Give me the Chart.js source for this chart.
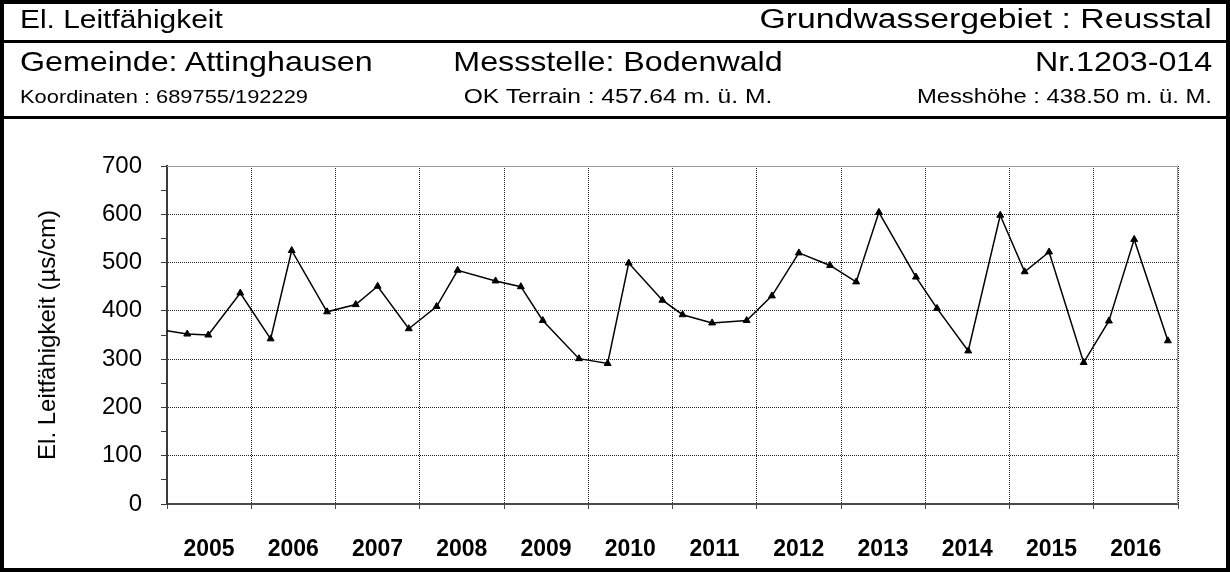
<!DOCTYPE html>
<html>
<head>
<meta charset="utf-8">
<title>El. Leitfähigkeit – Bodenwald</title>
<script src="https://cdn.jsdelivr.net/npm/chart.js@4.4.1/dist/chart.umd.min.js"></script>
<style>
  html, body { margin: 0; padding: 0; background: #fff; overflow: hidden; }
  #sheet { position: relative; width: 1230px; height: 572px; font-family: "Liberation Sans", Arial, sans-serif; color: #000; }
  #plot { position: absolute; left: 0; top: 0; width: 1230px; height: 572px; }
  #frame { position: absolute; left: 0; top: 0; width: 1222px; height: 564px; border: 4px solid #000; pointer-events: none; }
  .rule { position: absolute; left: 0; width: 1230px; height: 3px; background: #000; }
  .t { position: absolute; white-space: nowrap; line-height: 1; }
  .l { left: 20px; transform: scaleX(1.15); transform-origin: left center; }
  .r { right: 18px; transform: scaleX(1.15); transform-origin: right center; }
  .c { left: 618px; transform: translateX(-50%) scaleX(1.15); transform-origin: center center; }
  .big { font-size: 28px; }
  .head { font-size: 26px; }
  .small { font-size: 19px; }
  #area { font-size: 27px; transform: scaleX(1.25); }
  #terrain { font-size: 20px; transform: translateX(-50%) scaleX(1.23); }
  #height { font-size: 20px; transform: scaleX(1.19); }
</style>
</head>
<body>
<div id="sheet">
  <div id="plot"><canvas id="chart"></canvas></div>

  <div class="t head l" style="top:6px">El. Leitfähigkeit</div>
  <div class="t head r" id="area" style="top:6px">Grundwassergebiet : Reusstal</div>
  <div class="rule" style="top:40px"></div>

  <div class="t big l" style="top:48px">Gemeinde: Attinghausen</div>
  <div class="t big c" style="top:48px">Messstelle: Bodenwald</div>
  <div class="t big r" style="top:48px">Nr.1203-014</div>

  <div class="t small l" style="top:87px">Koordinaten : 689755/192229</div>
  <div class="t small c" id="terrain" style="top:86px">OK Terrain : 457.64 m. ü. M.</div>
  <div class="t small r" id="height" style="top:86px">Messhöhe : 438.50 m. ü. M.</div>
  <div class="rule" style="top:116px"></div>

  <div id="frame"></div>
</div>

<script>
'use strict';

// Year labels on the time axis (one per year cell)
var years = ['2005', '2006', '2007', '2008', '2009', '2010',
             '2011', '2012', '2013', '2014', '2015', '2016'];

// Sampling dates as decimal years (first one lies just before the plotted range)
var sampleDates = [
  2004.88, 2005.24, 2005.49, 2005.87, 2006.23, 2006.48, 2006.90,
  2007.24, 2007.50, 2007.87, 2008.20, 2008.45, 2008.90, 2009.20,
  2009.46, 2009.89, 2010.23, 2010.48, 2010.88, 2011.12, 2011.47,
  2011.88, 2012.18, 2012.50, 2012.87, 2013.18, 2013.45, 2013.89,
  2014.14, 2014.51, 2014.89, 2015.18, 2015.47, 2015.88, 2016.18,
  2016.48, 2016.88
];

// Electrical conductivity in µs/cm
var conductivity = [
  362, 352, 350, 437, 342, 525, 398,
  413, 451, 363, 409, 484, 462, 450,
  380, 301, 291, 499, 422, 392, 375,
  380, 431, 520, 494, 460, 604, 470,
  405, 317, 598, 481, 522, 293, 379,
  548, 338
];

var yMin = 0, yMax = 700, yMajor = 100, yMinor = 50;

var points = sampleDates.map(function (d, i) { return { x: d, y: conductivity[i] }; });

// Solid grey edge along the top and right of the plot area
var plotFrame = {
  id: 'plotFrame',
  beforeDatasetsDraw: function (chart) {
    var a = chart.chartArea, ctx = chart.ctx;
    ctx.save();
    ctx.strokeStyle = '#9a9a9a';
    ctx.lineWidth = 1;
    ctx.beginPath();
    ctx.moveTo(a.left, a.top + 0.5);
    ctx.lineTo(a.right - 0.5, a.top + 0.5);
    ctx.lineTo(a.right - 0.5, a.bottom);
    ctx.stroke();
    ctx.restore();
  }
};

new Chart(document.getElementById('chart'), {
  type: 'line',
  data: {
    datasets: [{
      data: points,
      borderColor: '#000',
      borderWidth: 1.5,
      tension: 0,
      pointStyle: 'triangle',
      pointRadius: 4,
      pointBackgroundColor: '#000',
      pointBorderColor: '#000',
      pointBorderWidth: 1
    }]
  },
  options: {
    responsive: true,
    maintainAspectRatio: false,
    animation: false,
    events: [],
    layout: { padding: { left: 0, right: 52, top: 166, bottom: 0 } },
    plugins: { legend: { display: false }, tooltip: { enabled: false } },
    scales: {
      x: {
        type: 'linear',
        min: 2005,
        max: 2005 + years.length,
        afterFit: function (s) { s.height = 68; },
        border: { display: true, color: '#4a4a4a', width: 2, dash: [1, 1] },
        grid: { color: '#222', lineWidth: 1, tickLength: 5, tickColor: '#4a4a4a' },
        ticks: {
          stepSize: 1,
          autoSkip: false,
          maxRotation: 0,
          labelOffset: 42,
          padding: 27,
          color: '#000',
          font: { family: '"Liberation Sans", Arial, sans-serif', size: 23, weight: 'bold' },
          callback: function (v, i) { return years[i] || ''; }
        }
      },
      y: {
        min: yMin,
        max: yMax,
        afterFit: function (s) { s.width = 167; },
        border: { display: true, color: '#3a3a3a', width: 2, dash: [1, 1] },
        grid: {
          lineWidth: 1,
          tickLength: 6,
          tickColor: '#3a3a3a',
          color: function (c) {
            return c.tick && c.tick.value % yMajor === 0 ? '#222' : 'rgba(0,0,0,0)';
          }
        },
        ticks: {
          stepSize: yMinor,
          autoSkip: false,
          padding: 19,
          color: '#000',
          font: { family: '"Liberation Sans", Arial, sans-serif', size: 24 },
          callback: function (v) { return v % yMajor === 0 ? String(v) : ''; }
        },
        title: {
          display: true,
          text: 'El. Leitfähigkeit (µs/cm)',
          color: '#000',
          padding: { top: 34, bottom: 0 },
          font: { family: '"Liberation Sans", Arial, sans-serif', size: 24 }
        }
      }
    }
  },
  plugins: [plotFrame]
});
</script>
</body>
</html>
